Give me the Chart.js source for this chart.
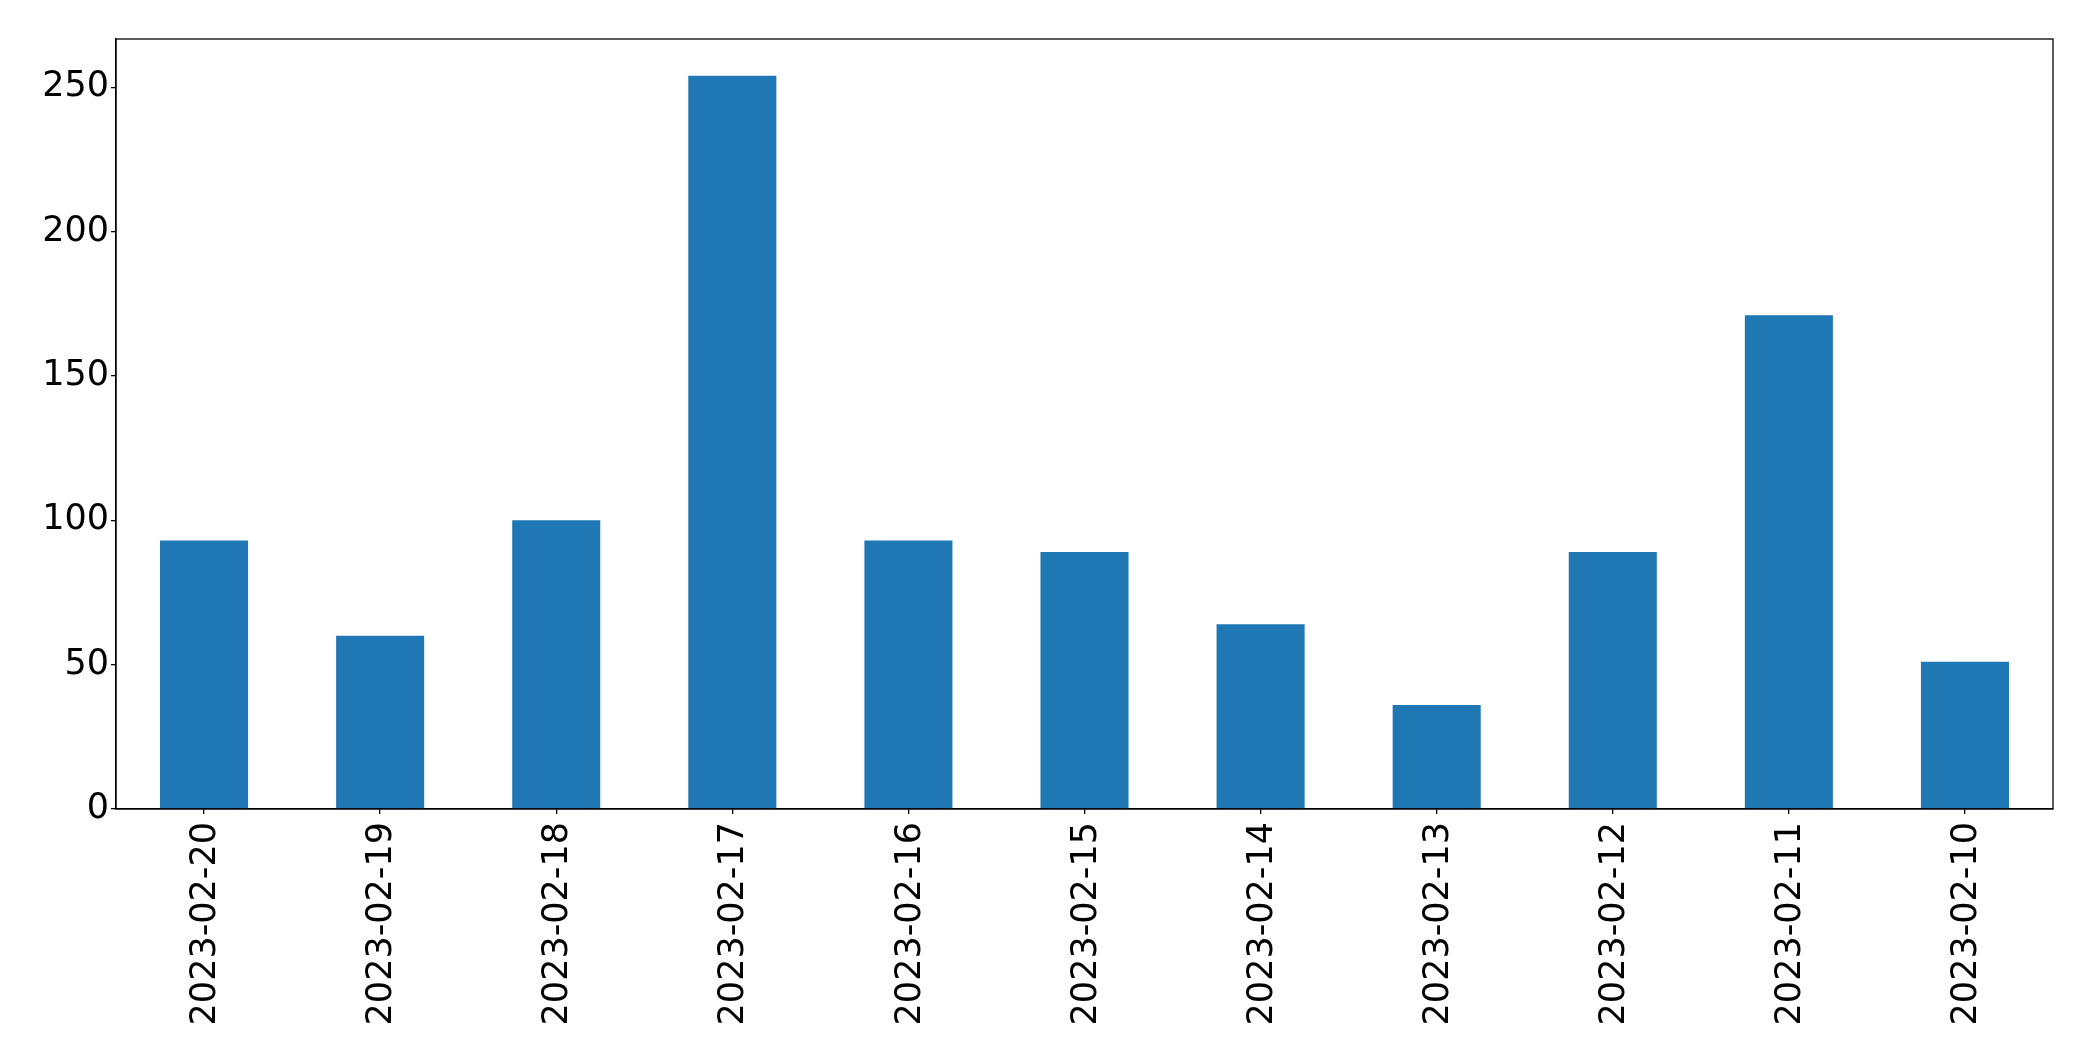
<!DOCTYPE html>
<html>
<head>
<meta charset="utf-8">
<script src="https://cdn.jsdelivr.net/npm/chart.js@4/dist/chart.umd.min.js"></script>
<style>
  html, body { margin: 0; padding: 0; background: #fff; }
  #wrap { width: 2093px; height: 1061px; }
</style>
</head>
<body>
<div id="wrap"><canvas id="barChart" width="2093" height="1061"></canvas></div>
<script>
// Data
const dates = ['2023-02-20', '2023-02-19', '2023-02-18', '2023-02-17', '2023-02-16', '2023-02-15',
               '2023-02-14', '2023-02-13', '2023-02-12', '2023-02-11', '2023-02-10'];
const counts = [93, 60, 100, 254, 93, 89, 64, 36, 89, 171, 51];
const yTicks = [0, 50, 100, 150, 200, 250];

const FONT = "'DejaVu Sans', sans-serif";

// Draw the box round the plot area (matplotlib spines)
const frame = {
    id: 'frame',
    afterDraw(chart) {
        const a = chart.chartArea;
        const ctx = chart.ctx;
        ctx.save();
        ctx.strokeStyle = '#000';
        ctx.lineWidth = 1.3;
        ctx.strokeRect(a.left, a.top, a.right - a.left, a.bottom - a.top);
        ctx.restore();
    }
};

Chart.defaults.font.family = FONT;
Chart.defaults.color = '#000';

const ctx = document.getElementById('barChart').getContext('2d');
new Chart(ctx, {
    type: 'bar',
    data: {
        labels: dates,
        datasets: [{
            data: counts,
            backgroundColor: '#1f77b4',
            borderWidth: 0,
            categoryPercentage: 0.5,
            barPercentage: 1.0
        }]
    },
    options: {
        responsive: false,
        animation: false,
        layout: { padding: { top: 39, right: 40, left: 0, bottom: 0 } },
        plugins: {
            legend: { display: false },
            tooltip: { enabled: false }
        },
        scales: {
            x: {
                offset: true,
                grid: { offset: false, drawOnChartArea: false, drawTicks: true, tickLength: 5, color: '#000', lineWidth: 1.3 },
                border: { display: true, color: '#000', width: 1.3 },
                ticks: {
                    minRotation: 90,
                    maxRotation: 90,
                    autoSkip: false,
                    padding: 8,
                    labelOffset: 2,
                    font: { size: 35 },
                    color: '#000'
                },
                afterFit(scale) { scale.height = 252; }
            },
            y: {
                min: 0,
                max: 266.7,
                grid: { drawOnChartArea: false, drawTicks: true, tickLength: 5, color: '#000', lineWidth: 1.3 },
                border: { display: true, color: '#000', width: 1.3 },
                ticks: {
                    padding: 2,
                    font: { size: 35 },
                    color: '#000'
                },
                afterBuildTicks(scale) {
                    scale.ticks = yTicks.map(v => ({ value: v }));
                },
                afterFit(scale) { scale.width = 116; }
            }
        }
    },
    plugins: [frame]
});
</script>
</body>
</html>
